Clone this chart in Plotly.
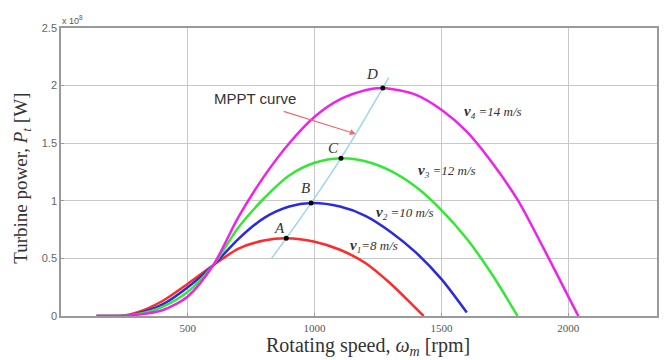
import plotly.graph_objects as go

# ---- data (power in units of 1e8 W, speed in rpm) ----
w_v1 = [140, 250, 300, 400, 500, 600, 700, 800, 888, 1000, 1100, 1200, 1300, 1380, 1430]
p_v1 = [0.0, 0.005, 0.03, 0.13, 0.28, 0.44, 0.585, 0.655, 0.675, 0.645, 0.575, 0.46, 0.28, 0.11, 0.0]

w_v2 = [140, 250, 300, 400, 500, 600, 700, 800, 900, 986, 1100, 1200, 1300, 1400, 1500, 1600]
p_v2 = [0.0, 0.003, 0.02, 0.10, 0.25, 0.44, 0.67, 0.85, 0.95, 0.98, 0.95, 0.87, 0.73, 0.55, 0.32, 0.03]

w_v3 = [140, 250, 300, 400, 500, 600, 700, 800, 900, 1000, 1104, 1200, 1300, 1400, 1500, 1600, 1700, 1800]
p_v3 = [0.0, 0.002, 0.015, 0.08, 0.21, 0.44, 0.77, 1.02, 1.22, 1.33, 1.37, 1.344, 1.26, 1.12, 0.92, 0.67, 0.36, 0.0]

w_v4 = [140, 250, 300, 400, 500, 600, 700, 800, 900, 1000, 1100, 1200, 1269, 1400, 1500, 1600, 1700, 1800, 1900, 2000, 2040]
p_v4 = [0.0, 0.001, 0.01, 0.05, 0.17, 0.44, 0.86, 1.21, 1.50, 1.73, 1.88, 1.96, 1.98, 1.92, 1.79, 1.60, 1.33, 1.01, 0.60, 0.17, 0.0]

w_mppt = [830, 888, 986, 1104, 1269, 1292]
p_mppt = [0.50, 0.675, 0.98, 1.37, 1.98, 2.07]

peak_names = ["A", "B", "C", "D"]
peak_w = [888, 986, 1104, 1269]
peak_p = [0.675, 0.98, 1.37, 1.98]

xtick_vals = [500, 1000, 1500, 2000, 2350]
ytick_vals = [0, 0.5, 1, 1.5, 2, 2.5]
ytick_text = ["0", "0.5", "1", "1.5", "2", "2.5"]

fig = go.Figure()
series = [
    (w_v1, p_v1, "#ff2a2a"),
    (w_v2, p_v2, "#2a2ae0"),
    (w_v3, p_v3, "#33e833"),
    (w_v4, p_v4, "#ee22ee"),
]
for w, p, c in series:
    fig.add_trace(go.Scatter(x=w, y=p, mode="lines",
                             line=dict(color=c, width=2.5, shape="spline", smoothing=0.8),
                             showlegend=False, hoverinfo="skip"))

fig.add_trace(go.Scatter(x=w_mppt, y=p_mppt, mode="lines",
                         line=dict(color="#9dd6ee", width=1.5, shape="spline", smoothing=0.6),
                         showlegend=False, hoverinfo="skip"))
fig.add_trace(go.Scatter(x=peak_w, y=peak_p, mode="markers",
                         marker=dict(color="black", size=5),
                         showlegend=False, hoverinfo="skip"))

serif = "Liberation Serif, Times New Roman, serif"
sans = "Liberation Sans, Arial, sans-serif"

anns = []
# peak letters
letter_pos = [(860, 0.76), (966, 1.11), (1076, 1.46), (1225, 2.10)]
for n, (x, y) in zip(peak_names, letter_pos):
    anns.append(dict(x=x, y=y, xref="x", yref="y", text="<i>%s</i>" % n, showarrow=False,
                     font=dict(family=serif, size=15, color="#333")))
# speed labels
vlabels = [
    (1233, 0.61, "<i><b><span style='font-size:15px'>v</span></b><sub>1</sub>=8 m/s</i>"),
    (1355, 0.89, "<i><b><span style='font-size:15px'>v</span></b><sub>2</sub> =10 m/s</i>"),
    (1520, 1.26, "<i><b><span style='font-size:15px'>v</span></b><sub>3</sub> =12 m/s</i>"),
    (1705, 1.77, "<i><b><span style='font-size:15px'>v</span></b><sub>4</sub> =14 m/s</i>"),
]
for x, y, t in vlabels:
    anns.append(dict(x=x, y=y, xref="x", yref="y", text=t, showarrow=False,
                     font=dict(family=serif, size=13, color="#333")))
# MPPT text and arrow
anns.append(dict(x=766, y=1.89, xref="x", yref="y", text="MPPT curve", showarrow=False,
                 font=dict(family=sans, size=15, color="#333")))
anns.append(dict(x=1163, y=1.58, ax=872, ay=1.78, xref="x", yref="y", axref="x", ayref="y",
                 text="", showarrow=True, arrowhead=2, arrowsize=1, arrowwidth=1.2,
                 arrowcolor="#f06a6a"))
# exponent label
anns.append(dict(x=0, y=1, xref="paper", yref="paper", text="x 10<sup>8</sup>", showarrow=False,
                 xanchor="left", yanchor="bottom", xshift=-1,
                 font=dict(family=sans, size=9, color="#555")))
# axis titles
anns.append(dict(x=-0.066, y=0.479, xref="paper", yref="paper",
                 text="Turbine power, <i>P<sub>t</sub></i> [W]", showarrow=False, textangle=-90,
                 xanchor="center", yanchor="middle",
                 font=dict(family=serif, size=19, color="#333")))
anns.append(dict(x=0.515, y=-0.106, xref="paper", yref="paper",
                 text="Rotating speed, <i>ω<sub>m</sub></i> [rpm]", showarrow=False,
                 xanchor="center", yanchor="middle",
                 font=dict(family=serif, size=20, color="#333")))

fig.update_layout(
    width=667, height=360,
    margin=dict(l=61, r=8, t=28, b=44),
    paper_bgcolor="white", plot_bgcolor="white",
    annotations=anns,
    xaxis=dict(range=[0, 2350], tickvals=xtick_vals, ticktext=[str(v) for v in xtick_vals],
               showgrid=True, gridcolor="#c8c8c8", gridwidth=1, zeroline=False,
               showline=True, mirror=True, linecolor="#9a9a9a", linewidth=1.5,
               ticks="inside", ticklen=3, tickcolor="#9a9a9a", ticklabelstandoff=1,
               tickfont=dict(family=serif, size=11, color="#555")),
    yaxis=dict(range=[0, 2.5], tickvals=ytick_vals, ticktext=ytick_text,
               showgrid=True, gridcolor="#c8c8c8", gridwidth=1, zeroline=False,
               showline=True, mirror=True, linecolor="#9a9a9a", linewidth=1.5,
               ticks="inside", ticklen=3, tickcolor="#9a9a9a",
               tickfont=dict(family=sans, size=11, color="#666")),
)

fig.write_html("out.html")
